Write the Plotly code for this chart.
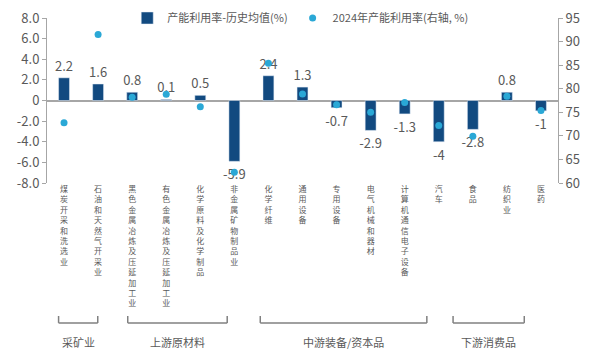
import plotly.graph_objects as go

categories = [
    "煤炭开采和洗选业", "石油和天然气开采业", "黑色金属冶炼及压延加工业",
    "有色金属冶炼及压延加工业", "化学原料及化学制品", "非金属矿物制品业",
    "化学纤维", "通用设备", "专用设备", "电气机械和器材", "计算机通信电子设备",
    "汽车", "食品", "纺织业", "医药",
]
gap_values = [2.2, 1.6, 0.8, 0.1, 0.5, -5.9, 2.4, 1.3, -0.7, -2.9, -1.3, -4, -2.8, 0.8, -1]
util_2024 = [72.8, 91.5, 78.2, 78.8, 76.2, 62.3, 85.4, 78.9, 76.6, 75.0, 77.1, 72.2, 69.9, 78.4, 75.4]

left_tickvals = [-8, -6, -4, -2, 0, 2, 4, 6, 8]
left_ticktext = ["-8.0", "-6.0", "-4.0", "-2.0", "0", "2.0", "4.0", "6.0", "8.0"]
right_tickvals = [60, 65, 70, 75, 80, 85, 90, 95]

group_names = ["采矿业", "上游原材料", "中游装备/资本品", "下游消费品"]

series1_name = "产能利用率-历史均值(%)"
series2_name = "2024年产能利用率(右轴, %)"

# layout constants (category-index spans of the group brackets)
group_spans = [(-0.16, 0.99), (1.87, 4.79), (5.76, 10.65), (11.42, 13.51)]

FONT = "Noto Sans CJK SC"
GREY_TXT = "#595959"
AXIS_GREY = "#A6A6A6"
BAR_COLOR = "#124A80"
DOT_COLOR = "#2AA8D6"

# vertical (stacked) category labels
vertical_labels = ["<br>".join(list(c)) for c in categories]

fig = go.Figure()
fig.add_trace(go.Bar(
    x=categories, y=gap_values, name=series1_name,
    marker_color=BAR_COLOR,
    text=[f"{v:g}" for v in gap_values], textposition="outside",
    constraintext="none",
    textfont=dict(size=13, color=GREY_TXT, family=FONT),
    cliponaxis=False,
))
fig.add_trace(go.Scatter(
    x=categories, y=util_2024, name=series2_name, yaxis="y2",
    mode="markers", marker=dict(color=DOT_COLOR, size=7),
    cliponaxis=False,
))

annotations = []
shapes = []
y_bot, y_top = -0.848, -0.806
for (a, b), name in zip(group_spans, group_names):
    line = dict(color="#808080", width=1.5)
    shapes.append(dict(type="line", xref="x", yref="paper", x0=a, x1=b, y0=y_bot, y1=y_bot, line=line))
    shapes.append(dict(type="line", xref="x", yref="paper", x0=a, x1=a, y0=y_bot, y1=y_top, line=line))
    shapes.append(dict(type="line", xref="x", yref="paper", x0=b, x1=b, y0=y_bot, y1=y_top, line=line))
    annotations.append(dict(
        x=(a + b) / 2, xref="x", y=-0.964, yref="paper", yanchor="middle",
        text=name, showarrow=False, font=dict(size=11, color=GREY_TXT, family=FONT),
    ))

# the page body adds an 8px margin, so the figure is 8px smaller on each side
fig.update_layout(
    width=592, height=348,
    margin=dict(l=39, r=42, t=10, b=173, autoexpand=False),
    paper_bgcolor="white", plot_bgcolor="white",
    font=dict(family=FONT, color=GREY_TXT, size=12),
    bargap=0.68,
    showlegend=True,
    legend=dict(orientation="h", x=0.157, xanchor="left", y=1.0, yanchor="middle",
                font=dict(size=11, color=GREY_TXT, family=FONT),
                bgcolor="rgba(0,0,0,0)", itemwidth=30),
    xaxis=dict(tickmode="array", tickvals=categories, ticktext=vertical_labels,
               tickangle=0, showline=False, ticks="", showgrid=False,
               zeroline=False, range=[-0.5, len(categories) - 0.5],
               ticklabelstandoff=0,
               tickfont=dict(size=8, color=GREY_TXT, family=FONT)),
    yaxis=dict(range=[-8, 8], tickvals=left_tickvals, ticktext=left_ticktext,
               showgrid=False, zeroline=True, zerolinecolor=AXIS_GREY, zerolinewidth=1.5,
               showline=True, linecolor=AXIS_GREY, linewidth=1,
               ticks="outside", ticklen=4, tickcolor=AXIS_GREY,
               ticklabeloverflow="allow",
               tickfont=dict(size=13, color=GREY_TXT, family=FONT)),
    yaxis2=dict(range=[60, 95], tickvals=right_tickvals, overlaying="y", side="right",
                showgrid=False, zeroline=False,
                showline=True, linecolor=AXIS_GREY, linewidth=1,
                ticks="outside", ticklen=4, tickcolor=AXIS_GREY,
                ticklabeloverflow="allow",
                tickfont=dict(size=13, color=GREY_TXT, family=FONT)),
    annotations=annotations,
    shapes=shapes,
)

fig.write_html("out.html")
